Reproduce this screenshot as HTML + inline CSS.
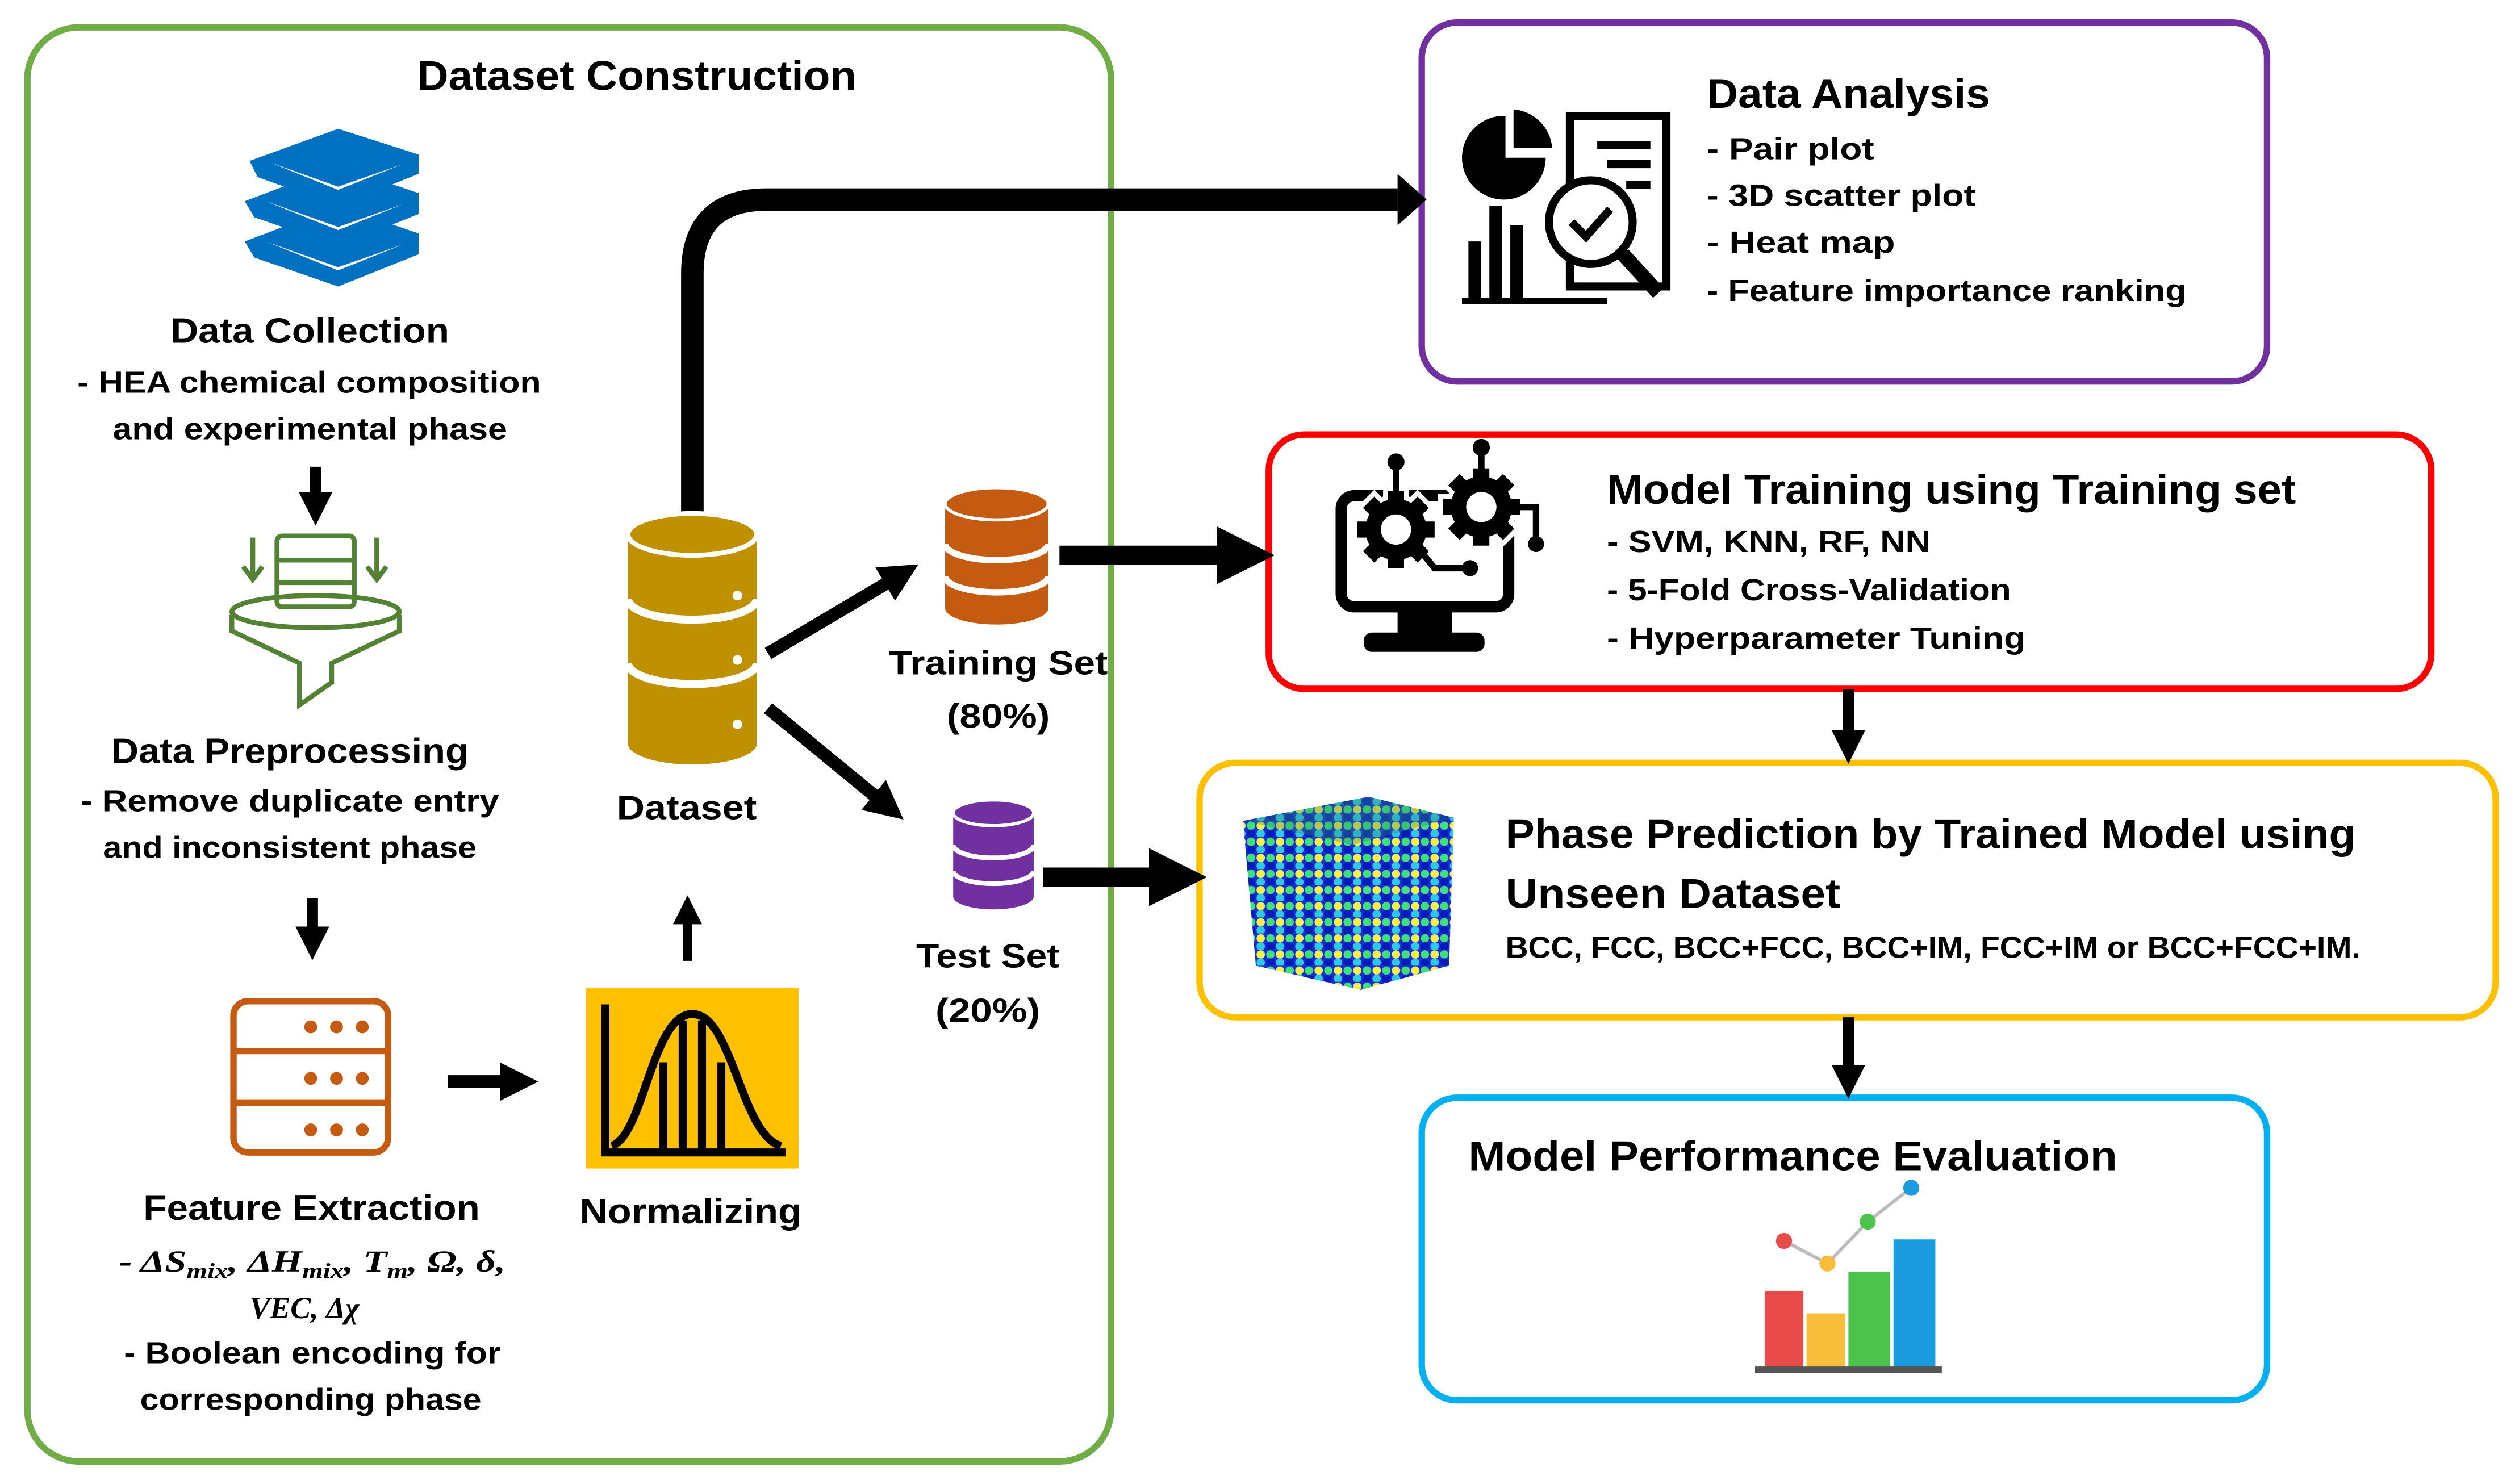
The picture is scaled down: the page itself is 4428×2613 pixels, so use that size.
<!DOCTYPE html>
<html><head><meta charset="utf-8"><style>
html,body{margin:0;padding:0;background:#fff;}
svg{display:block;}
text{font-family:"Liberation Sans",sans-serif;font-weight:bold;fill:#000;}
</style></head><body>
<svg width="4428" height="2613" viewBox="0 0 1562 922" preserveAspectRatio="none" xmlns="http://www.w3.org/2000/svg">
<defs>
<marker id="ah" markerWidth="3" markerHeight="3" refX="1.2" refY="1.5" orient="auto" markerUnits="strokeWidth"><path d="M0,0 L3,1.5 L0,3 Z" fill="#000"/></marker>
<g id="gear">
<circle r="19"/>
<rect x="-5" y="-24" width="10" height="48"/>
<rect x="-5" y="-24" width="10" height="48" transform="rotate(45)"/>
<rect x="-5" y="-24" width="10" height="48" transform="rotate(90)"/>
<rect x="-5" y="-24" width="10" height="48" transform="rotate(135)"/>
</g>
<pattern id="dots" width="12" height="10" patternUnits="userSpaceOnUse">
<rect width="12" height="10" fill="#1a2bd8"/>
<circle cx="3" cy="3" r="2.6" fill="#f4f04a"/><circle cx="9" cy="3" r="2.6" fill="#3ee07a"/>
<circle cx="3" cy="8" r="2.6" fill="#2ec9e6"/><circle cx="9" cy="8" r="2.6" fill="#0a1bb8"/>
</pattern>
</defs>
<!-- boxes -->
<rect x="17" y="17" width="673" height="891" rx="32" fill="none" stroke="#70ad47" stroke-width="4"/>
<rect x="883" y="14" width="525" height="223" rx="22" fill="none" stroke="#7030a0" stroke-width="4"/>
<rect x="788" y="270" width="722" height="158" rx="22" fill="none" stroke="#ff0000" stroke-width="4"/>
<rect x="745" y="474" width="805" height="158" rx="22" fill="none" stroke="#ffc000" stroke-width="4"/>
<rect x="883" y="682" width="525" height="188" rx="22" fill="none" stroke="#00b0f0" stroke-width="4"/>

<!-- texts left -->
<text x="259" y="56" font-size="26" textLength="273" lengthAdjust="spacingAndGlyphs">Dataset Construction</text>
<text x="106" y="213" font-size="22" textLength="173" lengthAdjust="spacingAndGlyphs">Data Collection</text>
<text x="48" y="244" font-size="19" textLength="288" lengthAdjust="spacingAndGlyphs">-  HEA chemical composition</text>
<text x="70" y="273" font-size="19" textLength="245" lengthAdjust="spacingAndGlyphs">and experimental phase</text>
<text x="69" y="474" font-size="22" textLength="222" lengthAdjust="spacingAndGlyphs">Data Preprocessing</text>
<text x="50" y="504" font-size="19" textLength="260" lengthAdjust="spacingAndGlyphs">-  Remove duplicate entry</text>
<text x="64" y="533" font-size="19" textLength="232" lengthAdjust="spacingAndGlyphs">and inconsistent phase</text>
<text x="89" y="758" font-size="22" textLength="209" lengthAdjust="spacingAndGlyphs">Feature Extraction</text>
<text x="74" y="790" font-size="19" font-style="italic" textLength="240" lengthAdjust="spacingAndGlyphs" style="font-family:'Liberation Serif',serif">-  ΔS<tspan font-size="13" dy="4">mix</tspan><tspan dy="-4">, ΔH</tspan><tspan font-size="13" dy="4">mix</tspan><tspan dy="-4">, T</tspan><tspan font-size="13" dy="4">m</tspan><tspan dy="-4">, Ω, δ,</tspan></text>
<text x="155" y="819" font-size="19" font-style="italic" style="font-family:'Liberation Serif',serif">VEC, Δχ</text>
<text x="77" y="847" font-size="19" textLength="234" lengthAdjust="spacingAndGlyphs">-  Boolean encoding for</text>
<text x="87" y="876" font-size="19" textLength="212" lengthAdjust="spacingAndGlyphs">corresponding phase</text>
<text x="360" y="760" font-size="22" textLength="138" lengthAdjust="spacingAndGlyphs">Normalizing</text>
<text x="383" y="509" font-size="21" textLength="87" lengthAdjust="spacingAndGlyphs">Dataset</text>
<text x="552" y="419" font-size="21" textLength="136" lengthAdjust="spacingAndGlyphs">Training Set</text>
<text x="588" y="452" font-size="21" textLength="64" lengthAdjust="spacingAndGlyphs">(80%)</text>
<text x="569" y="601" font-size="21" textLength="89" lengthAdjust="spacingAndGlyphs">Test Set</text>
<text x="581" y="635" font-size="21" textLength="65" lengthAdjust="spacingAndGlyphs">(20%)</text>

<!-- right texts -->
<text x="1060" y="67" font-size="26" textLength="176" lengthAdjust="spacingAndGlyphs">Data Analysis</text>
<text x="1060" y="99" font-size="19" textLength="104" lengthAdjust="spacingAndGlyphs">-  Pair plot</text>
<text x="1060" y="128" font-size="19" textLength="167" lengthAdjust="spacingAndGlyphs">-  3D scatter plot</text>
<text x="1060" y="157" font-size="19" textLength="117" lengthAdjust="spacingAndGlyphs">-  Heat map</text>
<text x="1060" y="187" font-size="19" textLength="298" lengthAdjust="spacingAndGlyphs">-  Feature importance ranking</text>
<text x="998" y="313" font-size="26" textLength="428" lengthAdjust="spacingAndGlyphs">Model Training using Training set</text>
<text x="998" y="343" font-size="19" textLength="201" lengthAdjust="spacingAndGlyphs">-  SVM, KNN, RF, NN</text>
<text x="998" y="373" font-size="19" textLength="251" lengthAdjust="spacingAndGlyphs">-  5-Fold Cross-Validation</text>
<text x="998" y="403" font-size="19" textLength="260" lengthAdjust="spacingAndGlyphs">-  Hyperparameter Tuning</text>
<text x="935" y="527" font-size="26" textLength="528" lengthAdjust="spacingAndGlyphs">Phase Prediction by Trained Model using</text>
<text x="935" y="564" font-size="26" textLength="208" lengthAdjust="spacingAndGlyphs">Unseen Dataset</text>
<text x="935" y="595" font-size="19" textLength="531" lengthAdjust="spacingAndGlyphs">BCC, FCC, BCC+FCC, BCC+IM, FCC+IM or BCC+FCC+IM.</text>
<text x="912" y="727" font-size="26" textLength="403" lengthAdjust="spacingAndGlyphs">Model Performance Evaluation</text>

<!-- arrows -->
<g stroke="#000" fill="none">
<path d="M430,320 V170 Q430,124 476,124 H868" stroke-width="14"/>
<path d="M868,108 L886,124 L868,140 Z" fill="#000" stroke="none"/>
<line x1="196" y1="290" x2="196" y2="314" stroke-width="7" marker-end="url(#ah)"/>
<line x1="194" y1="558" x2="194" y2="584" stroke-width="7" marker-end="url(#ah)"/>
<line x1="278" y1="672" x2="320" y2="672" stroke-width="8" marker-end="url(#ah)"/>
<line x1="427" y1="597" x2="427" y2="567" stroke-width="6" marker-end="url(#ah)"/>
<line x1="477" y1="406" x2="558" y2="358" stroke-width="8" marker-end="url(#ah)"/>
<line x1="477" y1="440" x2="550" y2="500" stroke-width="8" marker-end="url(#ah)"/>
<line x1="658" y1="345" x2="770" y2="345" stroke-width="12" marker-end="url(#ah)"/>
<line x1="648" y1="545" x2="728" y2="545" stroke-width="12" marker-end="url(#ah)"/>
<line x1="1148" y1="428" x2="1148" y2="462" stroke-width="7" marker-end="url(#ah)"/>
<line x1="1148" y1="632" x2="1148" y2="670" stroke-width="7" marker-end="url(#ah)"/>
</g>

<!-- books icon -->
<g fill="#0070c0">
<path d="M152,150 L210,128 L260,145 L260,158 L210,178 L158,160 Z"/>
<path d="M152,125 L210,103 L260,120 L260,133 L210,153 L158,135 Z"/>
<path d="M155,100 L210,80 L260,96 L260,108 L210,128 L160,110 Z"/>
</g>
<g fill="#fff"><path d="M165,150 L210,166 L250,152 L210,168 Z"/><path d="M165,125 L210,141 L250,127 L210,143 Z"/><path d="M168,101 L210,116 L250,102 L210,118 Z"/></g>

<!-- funnel icon -->
<g fill="none" stroke="#548235" stroke-width="3">
<rect x="172" y="333" width="48" height="44" rx="3"/>
<line x1="172" y1="348" x2="220" y2="348"/><line x1="172" y1="362" x2="220" y2="362"/>
<ellipse cx="196" cy="380" rx="52" ry="10"/>
<path d="M144,382 V392 L186,412 V438 L206,424 V412 L248,392 V382"/>
<line x1="157" y1="334" x2="157" y2="358"/><path d="M151,352 L157,360 L163,352"/>
<line x1="234" y1="334" x2="234" y2="358"/><path d="M228,352 L234,360 L240,352"/>
</g>

<!-- server icon -->
<g fill="none" stroke="#c55a11" stroke-width="4">
<rect x="145" y="622" width="96" height="94" rx="9"/>
<line x1="145" y1="653" x2="241" y2="653"/><line x1="145" y1="685" x2="241" y2="685"/>
</g>
<g fill="#c55a11">
<circle cx="193" cy="638" r="4"/><circle cx="209" cy="638" r="4"/><circle cx="225" cy="638" r="4"/>
<circle cx="193" cy="670" r="4"/><circle cx="209" cy="670" r="4"/><circle cx="225" cy="670" r="4"/>
<circle cx="193" cy="702" r="4"/><circle cx="209" cy="702" r="4"/><circle cx="225" cy="702" r="4"/>
</g>

<!-- normalizing icon -->
<rect x="364" y="614" width="132" height="112" fill="#ffc000"/>
<g stroke="#000" stroke-width="5" fill="none">
<path d="M376,624 V716 H488"/>
<path d="M380,712 C400,705 405,630 430,630 C455,630 460,705 485,712"/>
<line x1="412" y1="660" x2="412" y2="714"/><line x1="424" y1="634" x2="424" y2="714"/><line x1="436" y1="634" x2="436" y2="714"/><line x1="448" y1="660" x2="448" y2="714"/>
</g>

<!-- cylinders -->
<g>
<rect x="390" y="332" width="80" height="130" fill="#bf9000"/>
<ellipse cx="430" cy="462" rx="40" ry="13" fill="#bf9000"/>
<path d="M390,372 A40,13 0 0 0 470,372 M390,412 A40,13 0 0 0 470,412" stroke="#fff" stroke-width="5" fill="none"/>
<ellipse cx="430" cy="332" rx="40" ry="13" fill="#bf9000" stroke="#fff" stroke-width="3"/>
<circle cx="458" cy="370" r="3" fill="#fff"/><circle cx="458" cy="410" r="3" fill="#fff"/><circle cx="458" cy="450" r="3" fill="#fff"/>
</g>
<g>
<rect x="587" y="313" width="64" height="65" fill="#c55a11"/>
<ellipse cx="619" cy="378" rx="32" ry="10" fill="#c55a11"/>
<path d="M587,338 A32,10 0 0 0 651,338 M587,358 A32,10 0 0 0 651,358" stroke="#fff" stroke-width="4" fill="none"/>
<ellipse cx="619" cy="313" rx="32" ry="10" fill="#c55a11" stroke="#fff" stroke-width="2"/>
</g>
<g>
<rect x="592" y="505" width="50" height="52" fill="#7030a0"/>
<ellipse cx="617" cy="557" rx="25" ry="8" fill="#7030a0"/>
<path d="M592,525 A25,8 0 0 0 642,525 M592,541 A25,8 0 0 0 642,541" stroke="#fff" stroke-width="3" fill="none"/>
<ellipse cx="617" cy="505" rx="25" ry="8" fill="#7030a0" stroke="#fff" stroke-width="2"/>
</g>

<!-- data analysis icon -->
<g fill="#000">
<path d="M935,72 A26,26 0 1 0 960,98 L935,98 Z"/>
<path d="M940,68 A26,26 0 0 1 964,92 L940,92 Z"/>
<rect x="912" y="150" width="8" height="38"/><rect x="925" y="128" width="8" height="60"/><rect x="938" y="140" width="8" height="48"/><rect x="908" y="185" width="90" height="4"/>
</g>
<g fill="none" stroke="#000" stroke-width="5">
<path d="M975,72 H1035 V178 H975 Z"/>
<line x1="992" y1="90" x2="1025" y2="90"/><line x1="998" y1="102" x2="1025" y2="102"/><line x1="1010" y1="115" x2="1025" y2="115"/>
<circle cx="988" cy="138" r="26" fill="#fff"/>
<path d="M976,138 L985,147 L1000,130"/>
<line x1="1008" y1="158" x2="1030" y2="182" stroke-width="9"/>
</g>

<!-- monitor icon -->
<rect x="833" y="308" width="104" height="69" rx="8" fill="none" stroke="#000" stroke-width="7"/>
<rect x="868" y="378" width="34" height="18" fill="#000"/>
<rect x="847" y="393" width="75" height="12" rx="5" fill="#000"/>
<g stroke="#fff" stroke-width="6"><use href="#gear" x="867" y="329"/><use href="#gear" x="920" y="315"/></g>
<g fill="#000"><use href="#gear" x="867" y="329"/><use href="#gear" x="920" y="315"/></g>
<g stroke="#000" stroke-width="4" fill="none">
<line x1="867" y1="287" x2="867" y2="306"/><line x1="920" y1="278" x2="920" y2="292"/>
<path d="M882,342 L891,353 H913"/><path d="M938,315 H954 V338"/>
</g>
<g fill="#000"><circle cx="867" cy="287" r="5.3"/><circle cx="920" cy="278" r="5.3"/><circle cx="913" cy="353" r="5"/><circle cx="954" cy="338" r="5"/></g>
<circle cx="867" cy="329" r="9.4" fill="#fff"/><circle cx="920" cy="315" r="9.4" fill="#fff"/>

<!-- cube -->
<path d="M772,510 L850,495 L903,508 L900,600 L845,615 L780,600 Z" fill="url(#dots)"/>
<path d="M772,510 L850,495 L903,508 L840,525 Z" fill="#2a8a6a" opacity="0.35"/>

<!-- chart -->
<g>
<rect x="1096" y="802" width="24" height="48" fill="#e94b4b"/>
<rect x="1122" y="816" width="24" height="34" fill="#f9bd3c"/>
<rect x="1148" y="790" width="26" height="60" fill="#4cc34c"/>
<rect x="1176" y="770" width="26" height="80" fill="#1b9be0"/>
<rect x="1090" y="849" width="116" height="4" fill="#555"/>
<polyline points="1108,771 1135,785 1160,759 1187,738" fill="none" stroke="#bbb" stroke-width="2"/>
<circle cx="1108" cy="771" r="5" fill="#e94b4b"/><circle cx="1135" cy="785" r="5" fill="#f9bd3c"/>
<circle cx="1160" cy="759" r="5" fill="#4cc34c"/><circle cx="1187" cy="738" r="5" fill="#1b9be0"/>
</g>
</svg>
</body></html>
